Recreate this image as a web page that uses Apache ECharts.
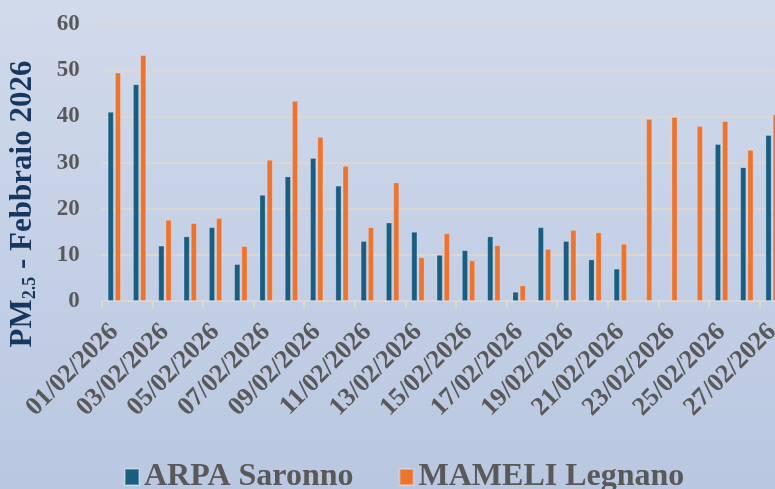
<!DOCTYPE html>
<html>
<head>
<meta charset="utf-8">
<script src="https://cdn.jsdelivr.net/npm/echarts@6/dist/echarts.min.js"></script>
<style>html,body{margin:0;padding:0;}#c{width:775px;height:489px;}</style>
</head>
<body>
<div id="c"></div>
<script>
const categories = ['01/02/2026','02/02/2026','03/02/2026','04/02/2026','05/02/2026','06/02/2026','07/02/2026','08/02/2026','09/02/2026','10/02/2026','11/02/2026','12/02/2026','13/02/2026','14/02/2026','15/02/2026','16/02/2026','17/02/2026','18/02/2026','19/02/2026','20/02/2026','21/02/2026','22/02/2026','23/02/2026','24/02/2026','25/02/2026','26/02/2026','27/02/2026'];
const arpaSaronno = [41,47,12,14,16,8,23,27,31,25,13,17,15,10,11,14,2,16,13,9,7,null,null,null,34,29,36];
const mameliLegnano = [49.5,53.3,17.6,16.9,18.0,11.9,30.6,43.4,35.6,29.3,16.0,25.7,9.5,14.7,8.8,12.1,3.4,11.3,15.4,14.9,12.4,39.5,39.9,37.9,39.0,32.8,40.5];
const yTicks = {min:0, max:60, interval:10};

const FONT = '"Liberation Serif", "DejaVu Serif", serif';
const LINE = '#dad7d5';
const chart = echarts.init(document.getElementById('c'));
chart.setOption({
  backgroundColor: {type:'linear', x:0, y:0, x2:0, y2:1, colorStops:[{offset:0,color:'#d1daeb'},{offset:1,color:'#b9c7e1'}]},
  animation: false,
  grid: {left:101.7, top:24.3, height:276.7, width:683.1, containLabel:false, outerBoundsMode:'none'},
  legend: {
    left: 119, top: 456, itemWidth: 14, itemHeight: 16, itemGap: 45,
    icon: 'rect',
    textStyle: {fontFamily: FONT, fontWeight:'bold', fontSize: 32, color:'#595959'},
    data: ['ARPA Saronno','MAMELI Legnano']
  },
  xAxis: {
    type:'category', data: categories,
    axisLine: {lineStyle:{color:LINE, width:2}},
    axisTick: {show:true, interval:1, length:8, lineStyle:{color:LINE, width:2}},
    axisLabel: {interval:1, rotate:45, margin:27, color:'#595959', fontFamily:FONT, fontWeight:'bold', fontSize:26}
  },
  yAxis: {
    type:'value', min:yTicks.min, max:yTicks.max, interval:yTicks.interval,
    axisLine:{show:false}, axisTick:{show:false},
    splitLine:{lineStyle:{color:LINE, width:2}},
    axisLabel:{margin:22, color:'#595959', fontFamily:FONT, fontWeight:'bold', fontSize:23}
  },
  graphic: [{
    type:'text', x:23, y:204, rotation: Math.PI/2,
    style: {
      text: '{a|PM}{b|2.5}{a| - Febbraio 2026}',
      align:'center', verticalAlign:'middle',
      rich: {
        a: {fontFamily:FONT, fontWeight:'bold', fontSize:31, fill:'#17375e', lineHeight:32, verticalAlign:'middle'},
        b: {fontFamily:FONT, fontWeight:'bold', fontSize:18, fill:'#17375e', lineHeight:32, verticalAlign:'bottom'}
      }
    }
  }],
  series: [
    {name:'ARPA Saronno', type:'bar', data: arpaSaronno, barWidth:6, barGap:'20%',
     itemStyle:{color:'#175e81', borderColor:'rgba(255,255,255,0.3)', borderWidth:0.8}},
    {name:'MAMELI Legnano', type:'bar', data: mameliLegnano, barWidth:6,
     itemStyle:{color:'#ec7431', borderColor:'rgba(255,255,255,0.3)', borderWidth:0.8}}
  ]
});
</script>
</body>
</html>
